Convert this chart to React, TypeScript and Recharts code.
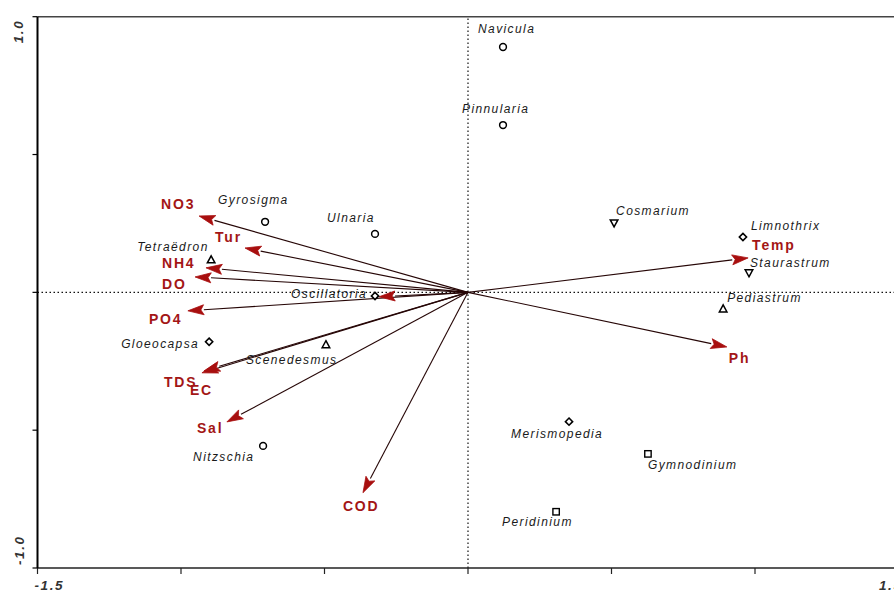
import React from "react";
import { ScatterChart, Scatter, XAxis, YAxis, ReferenceLine } from "recharts";

// species scores (CCA axis 1 / axis 2)
const speciesNames = [
  "Navicula", "Pinnularia", "Gyrosigma", "Ulnaria", "Tetraëdron", "Oscillatoria",
  "Gloeocapsa", "Scenedesmus", "Nitzschia", "Cosmarium", "Limnothrix", "Staurastrum",
  "Pediastrum", "Merismopedia", "Gymnodinium", "Peridinium",
];
const speciesX = [0.122, 0.122, -0.707, -0.324, -0.895, -0.324, -0.902, -0.495, -0.714, 0.509, 0.958, 0.979, 0.889, 0.352, 0.627, 0.307];
const speciesY = [0.89, 0.607, 0.256, 0.212, 0.118, -0.013, -0.179, -0.19, -0.557, 0.252, 0.201, 0.071, -0.06, -0.469, -0.586, -0.796];
const speciesMarker = [
  "circle", "circle", "circle", "circle", "up", "diamond",
  "diamond", "up", "circle", "down", "diamond", "down",
  "up", "diamond", "square", "square",
];

// environmental vectors (arrow tips)
const envNames = ["NO3", "Tur", "NH4", "DO", "PO4", "TDS", "EC", "Sal", "COD", "Temp", "Ph", ""];
const envX = [-0.937, -0.777, -0.913, -0.951, -0.976, -0.927, -0.92, -0.84, -0.366, 0.976, 0.902, -0.31];
const envY = [0.277, 0.161, 0.089, 0.056, -0.067, -0.292, -0.285, -0.47, -0.727, 0.125, -0.198, -0.016];

const xTicks = [-1.5, -1, -0.5, 0, 0.5, 1, 1.5];
const yTicks = [-1, -0.5, 0, 0.5, 1];

// label placement, px from the mark (text start, baseline)
const speciesLabelOffset = [
  [-25, -14], [-41, -12], [-47, -18], [-48, -12], [-74, -9], [-84, 2],
  [-88, 6], [-80, 19], [-70, 15], [2, -8], [8, -7], [1, -6],
  [4, -7], [-58, 16], [0, 15], [-54, 14],
];
const envLabelOffset = [
  [-38, -7], [-30, -6], [-44, 0], [-33, 12], [-39, 13], [-38, 14],
  [-14, 24], [-30, 11], [-20, 18], [4, -8], [2, 16], [0, 0],
];

const ARROW_LINE = "#260606";
const ARROW_HEAD = "#a80f0f";
const ENV_TEXT = "#a31616";
const FONT = "'Liberation Sans', Arial, sans-serif";

const speciesData = speciesNames.map((name, i) => ({
  name,
  x: speciesX[i],
  y: speciesY[i],
  marker: speciesMarker[i],
  i,
}));

function SpeciesPoint(props: any) {
  const { cx, cy, payload } = props;
  const s = 3.6;
  let mark;
  switch (payload.marker) {
    case "circle":
      mark = <circle cx={cx} cy={cy} r={3.4} fill="#fff" stroke="#000" strokeWidth={1.5} />;
      break;
    case "diamond":
      mark = (
        <polygon
          points={`${cx},${cy - s} ${cx + s},${cy} ${cx},${cy + s} ${cx - s},${cy}`}
          fill="#fff" stroke="#000" strokeWidth={1.6}
        />
      );
      break;
    case "up":
      mark = (
        <polygon
          points={`${cx},${cy - 4} ${cx + 3.8},${cy + 3} ${cx - 3.8},${cy + 3}`}
          fill="#fff" stroke="#000" strokeWidth={1.5}
        />
      );
      break;
    case "down":
      mark = (
        <polygon
          points={`${cx},${cy + 4} ${cx + 3.8},${cy - 3} ${cx - 3.8},${cy - 3}`}
          fill="#fff" stroke="#000" strokeWidth={1.5}
        />
      );
      break;
    default:
      mark = <rect x={cx - 3.2} y={cy - 3.2} width={6.4} height={6.4} fill="#fff" stroke="#000" strokeWidth={1.4} />;
  }
  const [dx, dy] = speciesLabelOffset[payload.i];
  return (
    <g>
      {mark}
      <text
        x={cx + dx}
        y={cy + dy}
        fontFamily={FONT}
        fontStyle="italic"
        fontSize={12}
        letterSpacing={1.4}
        fill="#1a1a1a"
      >
        {payload.name}
      </text>
    </g>
  );
}

function makeArrow(i: number) {
  return (p: any) => {
    const { x1, y1, x2, y2 } = p;
    const ang = Math.atan2(y2 - y1, x2 - x1);
    const len = 16;
    const hw = 5;
    const bx = x2 - len * Math.cos(ang);
    const by = y2 - len * Math.sin(ang);
    const nx = -Math.sin(ang);
    const ny = Math.cos(ang);
    const [dx, dy] = envLabelOffset[i];
    return (
      <g>
        <line x1={x1} y1={y1} x2={bx} y2={by} stroke={ARROW_LINE} strokeWidth={1.1} />
        <polygon
          points={`${x2},${y2} ${bx + nx * hw},${by + ny * hw} ${bx + 3 * Math.cos(ang)},${by + 3 * Math.sin(ang)} ${bx - nx * hw},${by - ny * hw}`}
          fill={ARROW_HEAD}
          stroke={ARROW_HEAD}
          strokeWidth={0.8}
        />
        {envNames[i] && (
          <text
            x={x2 + dx}
            y={y2 + dy}
            fontFamily={FONT}
            fontWeight="bold"
            fontSize={14}
            letterSpacing={1.8}
            fill={ENV_TEXT}
          >
            {envNames[i]}
          </text>
        )}
      </g>
    );
  };
}

function XTick(props: any) {
  const { x, y, payload } = props;
  const v = payload.value;
  if (Math.abs(v) !== 1.5) return <g />;
  return (
    <text
      x={v < 0 ? x - 3 : x + 4}
      y={y + 14}
      textAnchor={v < 0 ? "start" : "end"}
      fontFamily={FONT}
      fontStyle="italic"
      fontWeight="bold"
      fontSize={13.5}
      letterSpacing={1.6}
      fill="#333"
    >
      {v.toFixed(1)}
    </text>
  );
}

function YTick(props: any) {
  const { x, y, payload } = props;
  const v = payload.value;
  if (Math.abs(v) !== 1) return <g />;
  const ty = v > 0 ? y + 3 : y - 3;
  const tx = x - 7;
  return (
    <text
      x={tx}
      y={ty}
      transform={`rotate(-90 ${tx} ${ty})`}
      textAnchor={v > 0 ? "end" : "start"}
      fontFamily={FONT}
      fontStyle="italic"
      fontWeight="bold"
      fontSize={13.5}
      letterSpacing={1.6}
      fill="#333"
    >
      {v.toFixed(1)}
    </text>
  );
}

export default function App() {
  return (
    <div
      style={{
        position: "fixed",
        left: 0,
        top: 0,
        width: 894,
        height: 592,
        overflow: "hidden",
        background: "#fff",
      }}
    >
      <ScatterChart
        width={910}
        height={592}
        margin={{ top: 16.7, right: 11.5, bottom: 0, left: 0 }}
      >
        <XAxis
          type="number"
          dataKey="x"
          domain={[-1.5, 1.5]}
          ticks={xTicks}
          allowDataOverflow
          height={24}
          tickSize={6}
          tickMargin={2}
          tick={<XTick />}
          axisLine={{ stroke: "#222", strokeWidth: 1.5 }}
          tickLine={{ stroke: "#222", strokeWidth: 1.2 }}
        />
        <YAxis
          type="number"
          dataKey="y"
          domain={[-1, 1]}
          ticks={yTicks}
          allowDataOverflow
          width={37.5}
          tickSize={5}
          tickMargin={2}
          tick={<YTick />}
          axisLine={{ stroke: "#000", strokeWidth: 2 }}
          tickLine={{ stroke: "#000", strokeWidth: 1.2 }}
        />
        <ReferenceLine y={1} stroke="#444" strokeWidth={1.5} />
        <ReferenceLine x={0} stroke="#111" strokeWidth={1.2} strokeDasharray="1.5 2.5" />
        <ReferenceLine y={0} stroke="#111" strokeWidth={1.2} strokeDasharray="1.5 2.5" />
        {envNames.map((n, i) => (
          <ReferenceLine
            key={"env" + i}
            segment={[{ x: 0, y: 0 }, { x: envX[i], y: envY[i] }]}
            shape={makeArrow(i)}
          />
        ))}
        <Scatter data={speciesData} shape={<SpeciesPoint />} isAnimationActive={false} />
      </ScatterChart>
    </div>
  );
}
